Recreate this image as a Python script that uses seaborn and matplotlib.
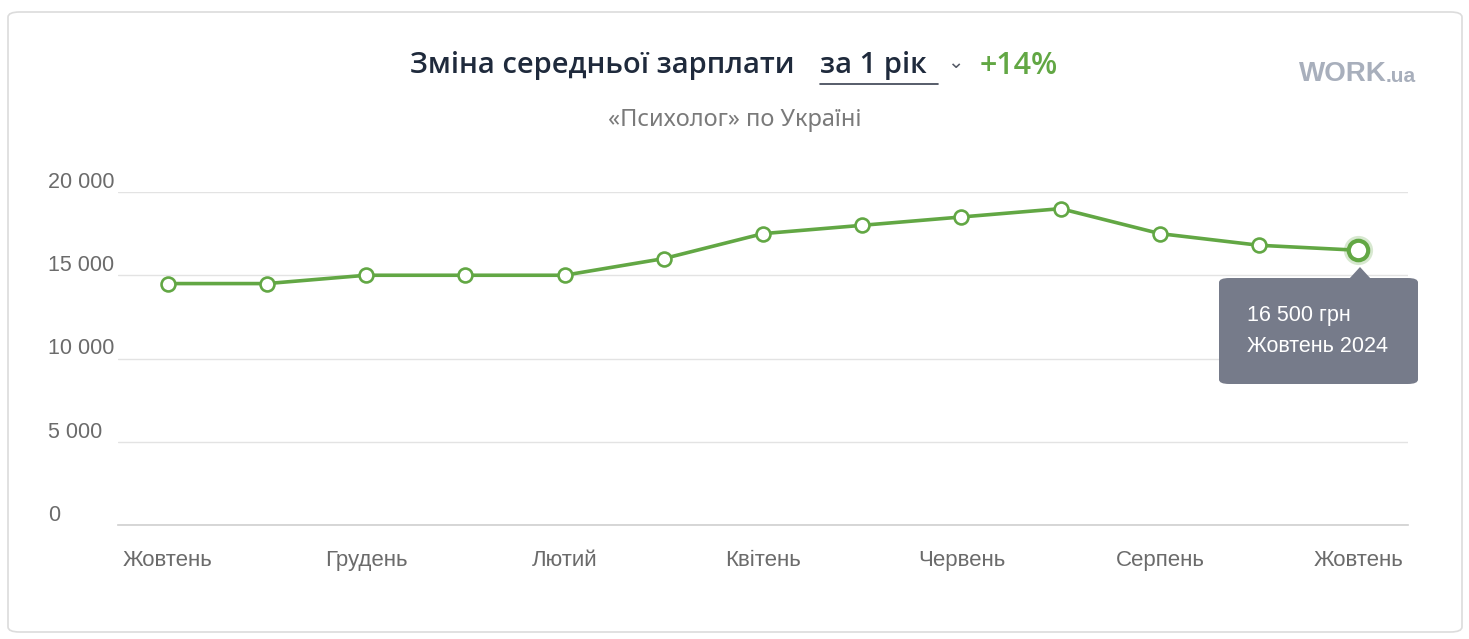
import numpy as np
import pandas as pd
import matplotlib.pyplot as plt
import seaborn as sns
from matplotlib.patches import FancyBboxPatch, Polygon
from matplotlib.transforms import ScaledTranslation

# === Data ===
months = ["Жовтень", "Листопад", "Грудень", "Січень", "Лютий", "Березень", "Квітень",
          "Травень", "Червень", "Липень", "Серпень", "Вересень", "Жовтень"]
salary = [14500, 14500, 15000, 15000, 15000, 16000, 17500, 18000, 18500, 19000, 17500, 16800, 16500]
y_ticks = [0, 5000, 10000, 15000, 20000]
y_tick_labels = ["0", "5 000", "10 000", "15 000", "20 000"]
tooltip_lines = ["16 500 грн", "Жовтень 2024"]

df = pd.DataFrame({"idx": np.arange(len(months)), "month": months, "salary": salary})

GREEN = "#62a744"
DARK = "#1f2a3c"
GRAY_TXT = "#6b6b6b"

sns.set_style("white")
plt.rcParams['font.family'] = ['Liberation Sans', 'DejaVu Sans']

W, H = 1469, 639
fig = plt.figure(figsize=(W / 100, H / 100), dpi=100)
fig.patch.set_facecolor("white")

# card border (drawn behind the axes)
card = FancyBboxPatch((8 / W, 7 / H), 1454 / W, 620 / H,
                      boxstyle="round,pad=0,rounding_size=0.008",
                      transform=fig.transFigure, facecolor="none",
                      edgecolor="#dcdcdc", linewidth=1.2, zorder=-1)
fig.patches.append(card)

ax = fig.add_axes([118 / W, 1 - 525 / H, (1408 - 118) / W, (525 - 192) / H])
ax.set_facecolor("none")

sns.lineplot(data=df, x="idx", y="salary", ax=ax, color=GREEN, linewidth=2.6,
             marker="o", markersize=10, markerfacecolor="white",
             markeredgecolor=GREEN, markeredgewidth=1.9, clip_on=False, zorder=5)

# highlighted last point
last = df.iloc[-1]
ax.plot(last["idx"], last["salary"], "o", ms=21, color=GREEN, alpha=0.25,
        markeredgewidth=0, clip_on=False, zorder=6)
ax.plot(last["idx"], last["salary"], "o", ms=14, markerfacecolor="white",
        markeredgecolor=GREEN, markeredgewidth=3, clip_on=False, zorder=7)

ax.set_xlim(-0.5, len(months) - 0.5)
ax.set_ylim(0, 20000)
ax.set_xlabel("")
ax.set_ylabel("")

ax.set_xticks(df["idx"][::2])
ax.set_xticklabels(df["month"][::2], fontsize=16, color=GRAY_TXT)
ax.tick_params(axis="x", length=9, width=1, color="#d0d0d0", pad=9)

ax.set_yticks(y_ticks)
ax.set_yticklabels(y_tick_labels, fontsize=15.5, color=GRAY_TXT, ha="left")
ax.tick_params(axis="y", length=0, pad=50.4)
for lab in ax.get_yticklabels():
    lab.set_transform(lab.get_transform() + ScaledTranslation(0, 0.12, fig.dpi_scale_trans))

ax.grid(axis="y", color="#e3e3e3", linewidth=1)
ax.grid(axis="x", visible=False)
for s in ["top", "right", "left"]:
    ax.spines[s].set_visible(False)
ax.spines["bottom"].set_color("#cfcfcf")
ax.spines["bottom"].set_linewidth(1.2)

# tooltip
tip = FancyBboxPatch((1219 / W, 1 - 384 / H), 199 / W, 106 / H,
                     boxstyle="round,pad=0,rounding_size=0.007",
                     transform=fig.transFigure, facecolor="#767b8a",
                     edgecolor="none", zorder=10)
fig.patches.append(tip)
arrow = Polygon([[1349 / W, 1 - 279 / H], [1371 / W, 1 - 279 / H], [1360 / W, 1 - 267 / H]],
                closed=True, transform=fig.transFigure, facecolor="#767b8a",
                edgecolor="none", zorder=10)
fig.patches.append(arrow)
fig.text(1247 / W, 1 - 315 / H, tooltip_lines[0], fontsize=15.5, color="white",
         va="center", ha="left", zorder=11)
fig.text(1247 / W, 1 - 347 / H, tooltip_lines[1], fontsize=15.5, color="white",
         va="center", ha="left", zorder=11)

# title
title_font = ["Open Sans", "DejaVu Sans"]
fig.text(410 / W, 1 - 66 / H, "Зміна середньої зарплати", fontsize=21,
         fontweight="semibold", family=title_font, color=DARK, va="center", ha="left")
fig.text(820 / W, 1 - 66 / H, "за 1 рік", fontsize=21, fontweight="semibold",
         family=title_font, color=DARK, va="center", ha="left")
fig.add_artist(plt.Line2D([820 / W, 938 / W], [1 - 84 / H, 1 - 84 / H],
                          color="#3a4150", linewidth=1.2))
fig.text(955 / W, 1 - 62 / H, "⌄", fontsize=14, family=["DejaVu Sans"],
         color="#555a66", va="center", ha="center")
fig.text(980 / W, 1 - 66 / H, "+14%", fontsize=22, fontweight="semibold",
         family=title_font, color=GREEN, va="center", ha="left")
fig.text(735 / W, 1 - 120 / H, "«Психолог» по Україні", fontsize=17,
         family=["Noto Sans", "DejaVu Sans"], color="#7a7a7a", va="center", ha="center")

# logo
fig.text(1299 / W, 1 - 74 / H, "WORK", fontsize=20, fontweight="bold",
         family=["Liberation Sans"], color="#a8afbc", va="center", ha="left")
fig.text(1386 / W, 1 - 77 / H, ".ua", fontsize=15, fontweight="bold",
         family=["Liberation Sans"], color="#a8afbc", va="center", ha="left")

fig.savefig("out.png", dpi=100, facecolor="white")
